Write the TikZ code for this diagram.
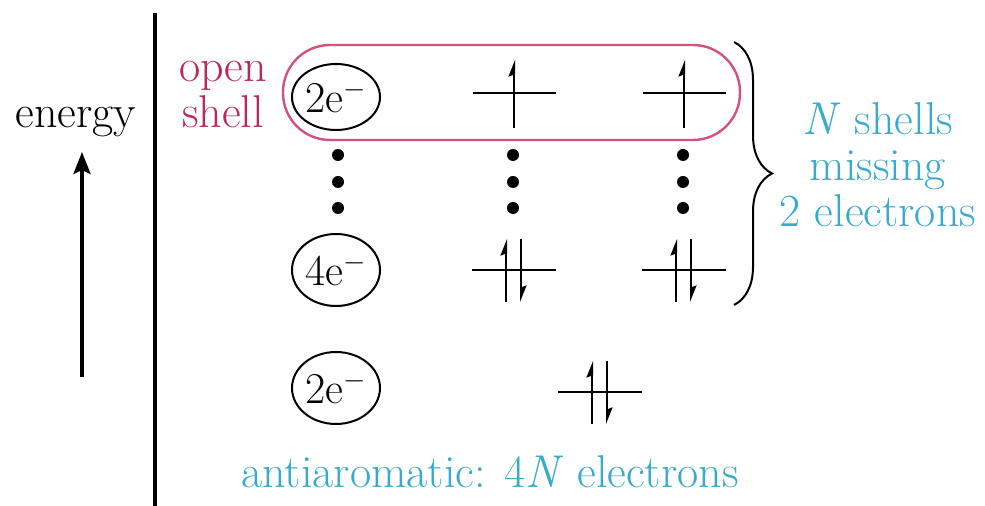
\documentclass[tikz,border=0pt]{standalone}
\usetikzlibrary{arrows.meta,shapes.geometric,decorations.pathreplacing}
\definecolor{shellred}{RGB}{185,40,90}
\definecolor{shellpink}{RGB}{210,80,130}
\definecolor{notecyan}{RGB}{55,170,205}
\tikzset{
  lbl/.style={font=\fontsize{23}{23}\selectfont},
  elec/.style={ellipse,draw,line width=1pt,minimum width=44pt,minimum height=33pt,
    inner sep=0pt,font=\fontsize{22}{22}\selectfont},
  lvl/.style={line width=1pt},
  spin/.style={line width=1pt,-{Stealth[left,length=7pt,width=5.5pt,inset=1pt]}},
}
\newcommand{\elm}{\textsuperscript{$-$}}
\begin{document}
\begin{tikzpicture}[x=0.5pt,y=-0.5pt]
  \useasboundingbox (0,0) rectangle (985,506);
  % axis
  \coordinate (top) at (155,13);
  \coordinate (bot) at (155,506);
  \draw[line width=2pt] (top) -- (bot);
  \node[lbl,anchor=base] (energy) at (76,128) {energy};
  \coordinate (tail) at (82,377);
  \coordinate (head) at (82,152);
  \draw[line width=1.8pt,-{Stealth[length=11pt,width=8.5pt,inset=2pt]}] (tail) -- (head);
  % shells
  \node[elec] (e1) at (336,97) {2e\elm};
  \node[elec,minimum height=36pt] (e2) at (336,270) {4e\elm};
  \node[elec,minimum height=36pt] (e3) at (336,388) {2e\elm};
  \draw[shellpink,line width=1.2pt,rounded corners=23.5pt] (283,45) rectangle (740,140);
  \node[lbl,text=shellred,align=center] (open) at (223,95) {open\\shell};
  % singly filled level
  \foreach \x in {514,684} {
    \draw[lvl] (\x-41,93) -- (\x+42,93);
    \draw[spin] (\x,128) -- (\x,60);
  }
  % filled levels
  \foreach \x/\y in {514/270,684/270,600/392} {
    \draw[lvl] (\x-42,\y) -- (\x+42,\y);
    \draw[spin] (\x-8,\y+32) -- (\x-8,\y-31);
    \draw[spin] (\x+7,\y-31) -- (\x+7,\y+32);
  }
  \foreach \x in {338,513,683}
    \foreach \y in {155,182,208}
      \fill (\x,\y) circle (3pt);
  % labels
  \draw[line width=1pt,decorate,decoration={brace,amplitude=19pt}] (734,42) -- (734,305);
  \node[lbl,text=notecyan,align=center] (missing) at (878,165)
    {\textit{N} shells\\missing\\2 electrons};
  \node[lbl,text=notecyan,anchor=base] (anti) at (490,488)
    {antiaromatic: 4\textit{N} electrons};
\end{tikzpicture}
\end{document}
